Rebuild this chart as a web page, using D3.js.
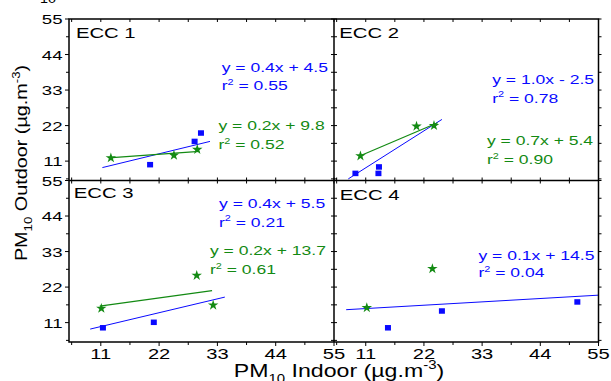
<!DOCTYPE html>
<html><head><meta charset="utf-8">
<script src="https://cdn.jsdelivr.net/npm/d3@7"></script>
<style>body{margin:0;background:#fff}svg{display:block}text{font-family:"Liberation Sans",Arial,sans-serif}</style>
</head><body>
<svg id="c" width="611" height="381"></svg>
<script>
// ---------- data (µg.m-3) ----------
const panels = ["ECC 1","ECC 2","ECC 3","ECC 4"];
const tickValues = [11,22,33,44,55];
const domainX = [5,55], domainY = [5,55];
// blue squares (series 1)
const blueECC1 = [[20.3,9.9],[28.7,17.1],[29.9,19.7]];
const blueECC2 = [[9.05,7.2],[13.5,9.2],[13.4,7.2]];
const blueECC3 = [[11.4,9.4],[21.0,11.1]];
const blueECC4 = [[15.2,9.4],[25.4,14.6],[51.0,17.4]];
// green stars (series 2)
const greenECC1 = [[12.9,12.0],[24.8,12.8],[29.2,14.6]];
const greenECC2 = [[10.0,12.6],[20.6,21.8],[23.9,22.0]];
const greenECC3 = [[11.1,15.4],[29.1,25.6],[32.2,16.4]];
const greenECC4 = [[11.2,15.6],[23.6,27.7]];
// fitted lines (endpoints)
const blueFit = [[[11.3,9.0],[31.6,17.1]],[[7.7,5.5],[25.4,23.9]],[[9.0,9.0],[34.4,18.9]],[[7.3,15.0],[55,19.5]]];
const greenFit = [[[12.5,12.0],[29.6,14.0]],[[9.85,12.6],[24.6,22.9]],[[10.8,16.1],[32.0,20.9]],null];
// equations
const blueEq = [["y = 0.4x + 4.5","0.55"],["y = 1.0x - 2.5","0.78"],["y = 0.4x + 5.5","0.21"],["y = 0.1x + 14.5","0.04"]];
const greenEq = [["y = 0.2x + 9.8","0.52"],["y = 0.7x + 5.4","0.90"],["y = 0.2x + 13.7","0.61"],null];

// ---------- layout ----------
const blue="#0a0aff", green="#138a13";
const L=[69,334,598.5], T=[19,180.5,342];
const eqPos = [ // [x, y of eq line, y of r2 line] in data units
  {b:[33.8,38.7,33.0], g:[33.2,20.6,14.7]},
  {b:[34.9,34.9,29.1], g:[33.9,16.0,10.1]},
  {b:[33.3,46.4,40.7], g:[31.6,31.9,26.0]},
  {b:[32.3,30.4,25.0], g:null}
];
const titlePos = [[6.3,49.0],[6.0,49.0],[5.9,49.5],[6.1,49.0]];
const blueSets=[blueECC1,blueECC2,blueECC3,blueECC4];
const greenSets=[greenECC1,greenECC2,greenECC3,greenECC4];

const svg=d3.select("#c");
function txt(g,x,y,str,size,sx,fill,anchor,rot){
  const t=g.append("text").attr("transform",`translate(${x},${y})${rot?` rotate(${rot})`:""} scale(${sx},1)`)
    .attr("font-size",size).attr("fill",fill||"#000").attr("text-anchor",anchor||"start");
  if(str!==null) t.text(str);
  return t;
}
function r2(g,x,y,val,size,sx,fill){
  const t=txt(g,x,y,null,size,sx,fill);
  t.append("tspan").text("r");
  t.append("tspan").attr("font-size",size*0.62).attr("dy",-5.5).text("2");
  t.append("tspan").attr("dy",5.5).text(" = "+val);
}

const minor=d3.range(5.5,55.01,5.5);
panels.forEach((name,i)=>{
  const col=i%2,row=Math.floor(i/2);
  const x=d3.scaleLinear().domain(domainX).range([L[col],L[col+1]]);
  const y=d3.scaleLinear().domain(domainY).range([T[row+1],T[row]]);
  const g=svg.append("g");
  // ticks
  const tk=g.append("g").attr("stroke","#000").attr("stroke-width",1);
  minor.forEach(v=>{
    const major = Math.abs(v%11)<1e-6;
    // top edge inward
    tk.append("line").attr("x1",x(v)).attr("x2",x(v)).attr("y1",T[row]).attr("y2",T[row]+3);
    // bottom edge
    if(row===1) tk.append("line").attr("x1",x(v)).attr("x2",x(v)).attr("y1",T[2]).attr("y2",T[2]+(major?4:3));
    else tk.append("line").attr("x1",x(v)).attr("x2",x(v)).attr("y1",T[1]).attr("y2",T[1]-3);
    // left edge
    if(col===0) tk.append("line").attr("y1",y(v)).attr("y2",y(v)).attr("x1",L[0]).attr("x2",L[0]-(major?4:3));
    else tk.append("line").attr("y1",y(v)).attr("y2",y(v)).attr("x1",L[1]).attr("x2",L[1]+3);
    // right edge
    if(col===1) tk.append("line").attr("y1",y(v)).attr("y2",y(v)).attr("x1",L[2]).attr("x2",L[2]+3);
    else tk.append("line").attr("y1",y(v)).attr("y2",y(v)).attr("x1",L[1]).attr("x2",L[1]-3);
  });
  // tick labels
  if(col===0) tickValues.forEach(v=>txt(g,L[0]-6.5,y(v)+5,String(v),13.5,1.38,"#000","end"));
  if(row===1) tickValues.forEach(v=>txt(g,x(v),T[2]+16.5,String(v),15.5,1.3,"#000","middle"));
  // fit lines
  const ln=d3.line().x(d=>x(d[0])).y(d=>y(d[1]));
  g.append("path").attr("d",ln(blueFit[i])).attr("fill","none").attr("stroke",blue).attr("stroke-width",1);
  if(greenFit[i]) g.append("path").attr("d",ln(greenFit[i])).attr("fill","none").attr("stroke",green).attr("stroke-width",1.2);
  // points
  g.selectAll(".sq").data(blueSets[i]).join("rect").attr("x",d=>x(d[0])-3).attr("y",d=>y(d[1])-2.75)
    .attr("width",6).attr("height",5.5).attr("fill",blue);
  g.selectAll(".st").data(greenSets[i]).join("path").attr("d",d3.symbol(d3.symbolStar,34))
    .attr("transform",d=>`translate(${x(d[0])},${y(d[1])})`).attr("fill",green);
  // title
  txt(g,x(titlePos[i][0]),y(titlePos[i][1]),name,14.5,1.4,"#000");
  // equations
  const p=eqPos[i];
  txt(g,x(p.b[0]),y(p.b[1]),blueEq[i][0],13.5,1.3,blue);
  r2(g,x(p.b[0]),y(p.b[2]),blueEq[i][1],13.5,1.3,blue);
  if(p.g){
    txt(g,x(p.g[0]),y(p.g[1]),greenEq[i][0],13.5,1.3,green);
    r2(g,x(p.g[0]),y(p.g[2]),greenEq[i][1],13.5,1.3,green);
  }
});
// frames
const fr=svg.append("g").attr("stroke","#000").attr("fill","none").attr("stroke-width",1.5);
fr.append("rect").attr("x",L[0]).attr("y",T[0]).attr("width",L[2]-L[0]).attr("height",T[2]-T[0]);
fr.append("line").attr("x1",L[1]).attr("x2",L[1]).attr("y1",T[0]).attr("y2",T[2]);
fr.append("line").attr("x1",L[0]).attr("x2",L[2]).attr("y1",T[1]).attr("y2",T[1]);

// axis titles
const xt=txt(svg,339,376.5,null,18.5,1.25,"#000","middle");
xt.append("tspan").text("PM");
xt.append("tspan").attr("font-size",12).attr("dy",6).text("10");
xt.append("tspan").attr("dy",-6).text(" Indoor (\u00b5g.m");
xt.append("tspan").attr("font-size",12).attr("dy",-8).text("-3");
xt.append("tspan").attr("dy",8).text(")");
const yt=txt(svg,27,163,null,16.5,1.2,"#000","middle",-90);
yt.append("tspan").text("PM");
yt.append("tspan").attr("font-size",11).attr("dy",5).text("10");
yt.append("tspan").attr("dy",-5).text(" Outdoor (\u00b5g.m");
yt.append("tspan").attr("font-size",11).attr("dy",-7).text("-3");
yt.append("tspan").attr("dy",7).text(")");
// cropped subscript at top edge
txt(svg,40,3,"10",12,1.2,"#000");
</script>
</body></html>
